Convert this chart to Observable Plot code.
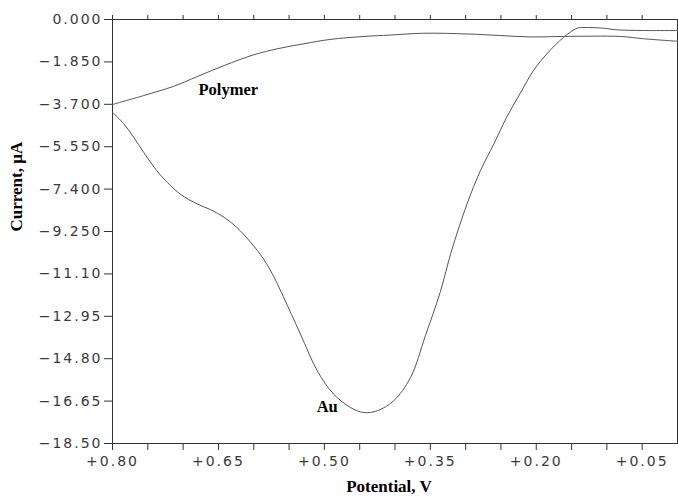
<!DOCTYPE html>
<html>
<head>
<meta charset="utf-8">
<script src="https://cdn.jsdelivr.net/npm/d3@7"></script>
<script src="https://cdn.jsdelivr.net/npm/@observablehq/plot@0.6"></script>
<style>
  html, body { margin: 0; padding: 0; background: #fff; }
  #chart svg { display: block; }
  #chart g[aria-label$="tick label"] text { letter-spacing: 2px; }
</style>
</head>
<body>
<div id="chart"></div>
<script>
// Potential (V) and current (µA)
const auPotential = [0.800, 0.784, 0.770, 0.756, 0.741, 0.727, 0.704, 0.680, 0.661, 0.642, 0.624, 0.605, 0.586, 0.572, 0.558, 0.534, 0.510, 0.487, 0.463, 0.444, 0.425, 0.402, 0.378, 0.357, 0.336, 0.320, 0.298, 0.279, 0.260, 0.242, 0.223, 0.204, 0.185, 0.161, 0.142, 0.133, 0.105, 0.086, 0.048, 0.000];
const auCurrent   = [-4.05, -4.55, -5.14, -5.79, -6.45, -6.96, -7.62, -8.05, -8.30, -8.63, -9.07, -9.70, -10.45, -11.20, -12.10, -13.72, -15.33, -16.34, -16.93, -17.15, -17.07, -16.64, -15.62, -13.80, -11.90, -10.10, -8.05, -6.59, -5.43, -4.27, -3.24, -2.23, -1.50, -0.77, -0.38, -0.35, -0.38, -0.45, -0.48, -0.48];

const polyPotential = [0.800, 0.756, 0.713, 0.680, 0.642, 0.600, 0.567, 0.529, 0.492, 0.444, 0.407, 0.360, 0.298, 0.251, 0.209, 0.161, 0.081, 0.048, 0.000];
const polyCurrent   = [-3.71, -3.32, -2.91, -2.49, -2.01, -1.54, -1.28, -1.06, -0.87, -0.74, -0.68, -0.60, -0.63, -0.70, -0.76, -0.74, -0.74, -0.84, -0.95];

// Axis ticks
const xTicks = [0.80, 0.75, 0.70, 0.65, 0.60, 0.55, 0.50, 0.45, 0.40, 0.35, 0.30, 0.25, 0.20, 0.15, 0.10, 0.05];
const xTickLabels = [0.80, 0.65, 0.50, 0.35, 0.20, 0.05];
const yTicks = [0, -1.85, -3.70, -5.55, -7.40, -9.25, -11.10, -12.95, -14.80, -16.65, -18.50];

// Curve labels
const labelText = ["Polymer", "Au"];
const labelPotential = [0.636, 0.496];
const labelCurrent = [-3.06, -16.90];

const au = auPotential.map((v, k) => ({v, i: auCurrent[k]}));
const poly = polyPotential.map((v, k) => ({v, i: polyCurrent[k]}));
const labels = labelText.map((t, k) => ({t, v: labelPotential[k], i: labelCurrent[k]}));

const xFmt = d => xTickLabels.some(l => Math.abs(l - d) < 1e-6) ? "+" + d.toFixed(2) : "";
const yFmt = d => {
  const a = Math.abs(d);
  const s = a < 10 ? a.toFixed(3) : a.toFixed(2);
  return (d < -1e-9 ? "\u2212" : "") + s;
};

const tickFont = {fontSize: 14, fill: "#3a3a3a", fontFamily: "DejaVu Sans, sans-serif"};
const serif = "Liberation Serif, Times New Roman, serif";

const chart = Plot.plot({
  width: 678,
  height: 499,
  marginLeft: 112,
  marginRight: 1,
  marginTop: 19,
  marginBottom: 56,
  style: {background: "#fff", overflow: "visible", fontFamily: "DejaVu Sans, sans-serif"},
  x: {domain: [0.80, 0.00], label: null},
  y: {domain: [-18.5, 0], label: null},
  marks: [
    Plot.axisX({anchor: "bottom", ticks: xTicks, tickSize: 7, tickPadding: 6, tickFormat: xFmt, stroke: "#333", ...tickFont, label: null}),
    Plot.axisX({anchor: "top", ticks: xTicks, tickSize: 5, tickFormat: () => "", stroke: "#333", label: null}),
    Plot.axisY({anchor: "left", ticks: yTicks, tickSize: 8, tickPadding: 2, tickFormat: yFmt, stroke: "#333", ...tickFont, label: null}),
    Plot.frame({stroke: "#333"}),
    Plot.line(poly, {x: "v", y: "i", stroke: "#555", strokeWidth: 1, curve: "catmull-rom"}),
    Plot.line(au, {x: "v", y: "i", stroke: "#555", strokeWidth: 1, curve: "catmull-rom"}),
    Plot.text(labels, {x: "v", y: "i", text: "t", fontFamily: serif, fontWeight: "bold", fontSize: 16.5, fill: "#000"}),
    Plot.text(["Potential, V"], {frameAnchor: "bottom", dy: 48, dx: -6, fontFamily: serif, fontWeight: "bold", fontSize: 17, fill: "#000"}),
    Plot.text(["Current, \u00b5A"], {frameAnchor: "left", dx: -96, rotate: -90, fontFamily: serif, fontWeight: "bold", fontSize: 17, fill: "#000"})
  ]
});
document.getElementById("chart").appendChild(chart);
</script>
</body>
</html>
